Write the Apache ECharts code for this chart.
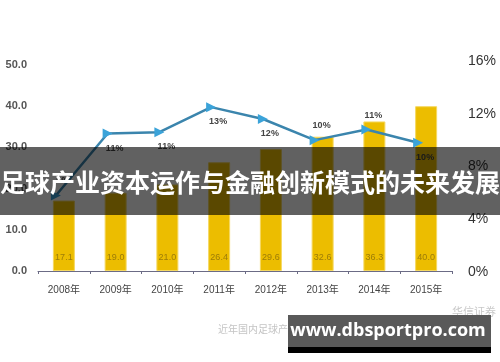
<!DOCTYPE html>
<html>
<head>
<meta charset="utf-8">
<script src="https://cdn.jsdelivr.net/npm/echarts@6/dist/echarts.min.js"></script>
<style>
html,body{margin:0;padding:0;background:#fff;}
#c{width:500px;height:362px;}
</style>
</head>
<body>
<div id="c"></div>
<script>
const years = ['2008年','2009年','2010年','2011年','2012年','2013年','2014年','2015年'];
const revenue = [17.1, 19.0, 21.0, 26.4, 29.6, 32.6, 36.3, 40.0];
const growth = [5.8, 10.5, 10.6, 12.5, 11.6, 10.0, 10.8, 9.8];
const leftAxis = {min: 0, max: 50, interval: 10};
const rightAxis = {min: 0, max: 16, interval: 4};
const titleText = '足球产业资本运作与金融创新模式的未来发展';
const sourceText = '近年国内足球产业规模及增速';
const brandText = '华信证券';
const watermarkText = 'www.dbsportpro.com';

const labelAbove = {'2008年': true, '2013年': true, '2014年': true};

const chart = echarts.init(document.getElementById('c'), null, {renderer: 'canvas'});
const option = {
  backgroundColor: '#ffffff',
  animation: false,
  grid: [
    {left: 38, right: 48, top: 65, bottom: 91},
    {left: 30, right: 56, top: 61, bottom: 90}
  ],
  xAxis: [
    {
      type: 'category', gridIndex: 0, data: years,
      axisLine: {lineStyle: {color: '#6b6b85', width: 1}},
      axisTick: {show: true, length: 3, lineStyle: {color: '#6b6b85'}},
      axisLabel: {color: '#444', fontSize: 10, margin: 14, fontFamily: 'Liberation Sans, Noto Sans CJK SC'}
    },
    {
      type: 'category', gridIndex: 1, data: years, show: false
    }
  ],
  yAxis: [
    {
      type: 'value', gridIndex: 0, min: leftAxis.min, max: leftAxis.max, interval: leftAxis.interval,
      axisLine: {show: false}, axisTick: {show: false}, splitLine: {show: false},
      axisLabel: {color: '#555', fontSize: 11, fontWeight: 'bold', margin: 11,
        fontFamily: 'Liberation Sans', formatter: v => v.toFixed(1)}
    },
    {
      type: 'value', gridIndex: 1, position: 'right', min: rightAxis.min, max: rightAxis.max, interval: rightAxis.interval,
      axisLine: {show: false}, axisTick: {show: false}, splitLine: {show: false},
      axisLabel: {color: '#333', fontSize: 14, margin: 24, fontFamily: 'Liberation Sans', formatter: v => v + '%'}
    }
  ],
  series: [
    {
      type: 'bar', xAxisIndex: 0, yAxisIndex: 0, data: revenue, barWidth: 22,
      itemStyle: {color: '#ecbd00', borderColor: '#f5d860', borderWidth: 1},
      label: {show: true, position: 'insideBottom', distance: 9, color: '#9c7c08', fontSize: 9,
        fontFamily: 'Liberation Sans', formatter: p => p.value.toFixed(1)},
      z: 2
    },
    {
      type: 'line', xAxisIndex: 1, yAxisIndex: 1,
      data: growth.map((v, i) => ({
        value: v,
        label: {position: labelAbove[years[i]] ? 'top' : 'bottom'}
      })),
      symbol: 'triangle', symbolSize: 10, symbolRotate: -90,
      lineStyle: {color: '#3b85ad', width: 2.5},
      itemStyle: {color: '#3ba3d9'},
      label: {show: true, color: '#444', fontSize: 9, fontWeight: 'bold', offset: [7, 0],
        fontFamily: 'Liberation Sans', formatter: p => Math.round(p.value) + '%'},
      z: 3
    }
  ],
  graphic: [
    {type: 'text', left: 218, top: 324, z: 5,
      style: {text: sourceText, fill: '#c4c4c4', fontSize: 10, fontFamily: 'Noto Sans CJK SC'}},
    {type: 'text', left: 452, top: 306, z: 5,
      style: {text: brandText, fill: '#c8c8c8', fontSize: 11, fontFamily: 'Noto Sans CJK SC'}},
    {type: 'rect', shape: {x: 0, y: 147, width: 500, height: 68}, z: 10,
      style: {fill: 'rgba(0,0,0,0.62)'}},
    {type: 'text', z: 11, x: 250, y: 182,
      style: {text: titleText, fill: '#ffffff', fontSize: 25, fontWeight: 'bold',
        fontFamily: 'Noto Sans CJK SC', align: 'center', verticalAlign: 'middle'}},
    {type: 'rect', shape: {x: 288, y: 315, width: 203, height: 32}, z: 10,
      style: {fill: '#595959'}},
    {type: 'rect', shape: {x: 288, y: 347, width: 203, height: 6}, z: 10,
      style: {fill: '#000000'}},
    {type: 'text', z: 11, x: 388, y: 331,
      style: {text: watermarkText, fill: '#ffffff', fontSize: 18, fontWeight: 'bold',
        fontFamily: 'Open Sans', align: 'center', verticalAlign: 'middle'}}
  ]
};
chart.setOption(option);
</script>
</body>
</html>
